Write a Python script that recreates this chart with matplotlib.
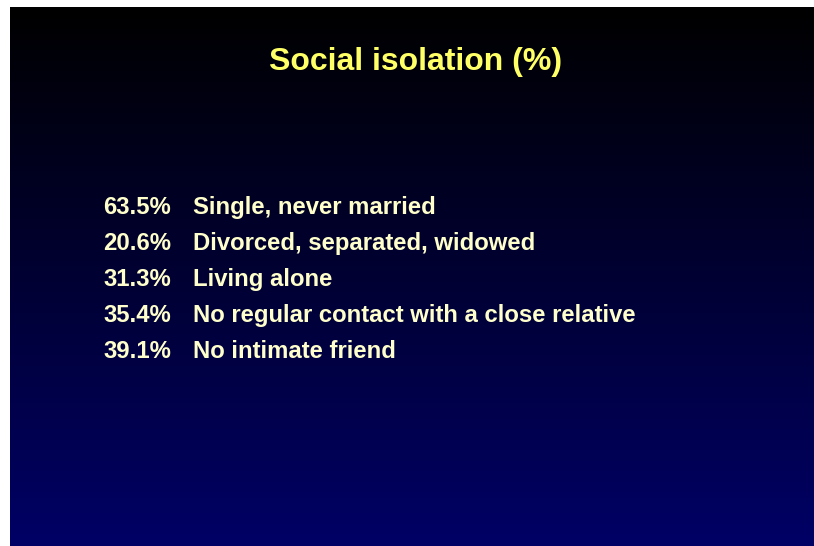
import numpy as np
import matplotlib.pyplot as plt

title = "Social isolation (%)"
percents = [63.5, 20.6, 31.3, 35.4, 39.1]
labels = [
    "Single, never married",
    "Divorced, separated, widowed",
    "Living alone",
    "No regular contact with a close relative",
    "No intimate friend",
]

W, H = 814, 546
fig = plt.figure(figsize=(W / 100, H / 100), dpi=100)
fig.patch.set_facecolor("white")

# slide area (pixel coords of the dark panel)
x0, y0, x1, y1 = 10, 7, 814, 546
ax = fig.add_axes([x0 / W, 1 - y1 / H, (x1 - x0) / W, (y1 - y0) / H])
ax.set_xlim(x0, x1)
ax.set_ylim(y1, y0)
ax.axis("off")

# vertical gradient black -> navy
t = np.linspace(0, 1, 256)[:, None]
top = np.array([0.0, 0.0, 0.0])
bottom = np.array([0.0, 0.0, 0.40])
grad = top + t[..., None] * (bottom - top)
grad = np.repeat(grad, 2, axis=1)
ax.imshow(grad, extent=[x0, x1, y1, y0], aspect="auto", zorder=0)

font = ["Liberation Sans", "DejaVu Sans"]
ax.text(416, 62, title, color="#FFFF66", fontsize=23, fontweight="bold",
        family=font, ha="center", va="center")

y_start, step = 208, 35.8
for i, (p, lab) in enumerate(zip(percents, labels)):
    y = y_start + i * step
    ax.text(103, y, f"{p:.1f}%", color="#FFFFCC", fontsize=17.2,
            fontweight="bold", family=font, ha="left", va="center")
    ax.text(193, y, lab, color="#FFFFCC", fontsize=17.2,
            fontweight="bold", family=font, ha="left", va="center")

fig.savefig("out.png", dpi=100)
